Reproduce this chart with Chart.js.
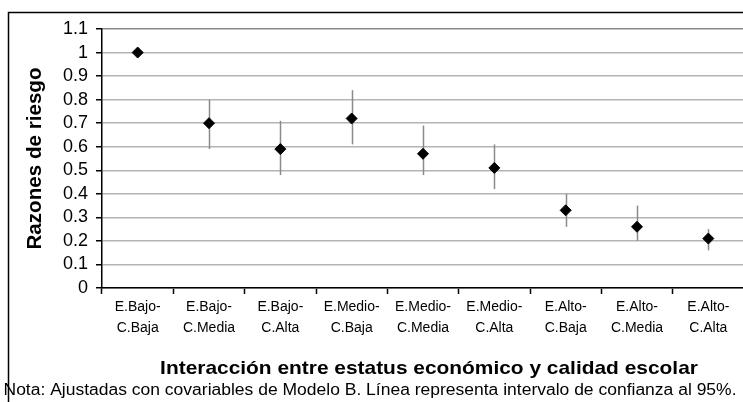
<!DOCTYPE html>
<html>
<head>
<meta charset="utf-8">
<script src="https://cdn.jsdelivr.net/npm/chart.js@4/dist/chart.umd.min.js"></script>
<style>
  html, body { margin: 0; padding: 0; background: #fff; overflow: hidden; }
  #wrap { position: absolute; left: 0; top: 0; width: 760px; height: 402px; }
</style>
</head>
<body>
<div id="wrap"><canvas id="c" width="760" height="402"></canvas></div>
<script>
// Categories: economic status x school quality
const categories = [
  ['E.Bajo-', 'C.Baja'], ['E.Bajo-', 'C.Media'], ['E.Bajo-', 'C.Alta'],
  ['E.Medio-', 'C.Baja'], ['E.Medio-', 'C.Media'], ['E.Medio-', 'C.Alta'],
  ['E.Alto-', 'C.Baja'], ['E.Alto-', 'C.Media'], ['E.Alto-', 'C.Alta']
];
// Risk ratios and 95% confidence limits
const ratios = [1.00, 0.70, 0.59, 0.72, 0.57, 0.51, 0.33, 0.26, 0.21];
const lower  = [1.00, 0.59, 0.48, 0.61, 0.48, 0.42, 0.26, 0.20, 0.16];
const upper  = [1.00, 0.80, 0.71, 0.84, 0.69, 0.61, 0.40, 0.35, 0.25];
const yTicks = [0, 0.1, 0.2, 0.3, 0.4, 0.5, 0.6, 0.7, 0.8, 0.9, 1.0, 1.1];

const xTitle = 'Interacción entre estatus económico y calidad escolar';
const yTitle = 'Razones de riesgo';
const note = 'Nota: Ajustadas con covariables de Modelo B. Línea representa intervalo de confianza al 95%.';

const FONT = '"Liberation Sans", Arial, sans-serif';

// Vertical confidence-interval lines behind the markers
const errorBars = {
  id: 'errorBars',
  beforeDatasetsDraw(chart) {
    const { ctx, scales: { x, y } } = chart;
    ctx.save();
    ctx.strokeStyle = '#8a8a8a';
    ctx.lineWidth = 1.5;
    for (let i = 0; i < ratios.length; i++) {
      if (upper[i] === lower[i]) continue;
      const px = Math.round(x.getPixelForValue(i)) + 0.5;
      ctx.beginPath();
      ctx.moveTo(px, y.getPixelForValue(upper[i]));
      ctx.lineTo(px, y.getPixelForValue(lower[i]));
      ctx.stroke();
    }
    ctx.restore();
  }
};

// Draws text stretched horizontally by sx around (x, y)
function wideText(ctx, text, x, y, sx) {
  ctx.save();
  ctx.translate(x, y);
  ctx.scale(sx, 1);
  ctx.fillText(text, 0, 0);
  ctx.restore();
}

// Frame, axis titles and footnote
const decorations = {
  id: 'decorations',
  afterDraw(chart) {
    const { ctx, chartArea } = chart;
    ctx.save();
    ctx.strokeStyle = '#000';
    ctx.lineWidth = 1.5;
    ctx.beginPath();
    ctx.moveTo(8.5, 402);
    ctx.lineTo(8.5, 12.5);
    ctx.lineTo(760, 12.5);
    ctx.stroke();

    ctx.fillStyle = '#000';
    ctx.textAlign = 'center';
    ctx.textBaseline = 'alphabetic';
    ctx.font = 'bold 19px ' + FONT;
    wideText(ctx, xTitle, 429, 374, 1.1);

    ctx.font = '16px ' + FONT;
    wideText(ctx, note, 370, 395, 1.093);

    ctx.translate(41, (chartArea.top + chartArea.bottom) / 2);
    ctx.rotate(-Math.PI / 2);
    ctx.font = 'bold 20px ' + FONT;
    wideText(ctx, yTitle, 0, 0, 1.03);
    ctx.restore();
  }
};

new Chart(document.getElementById('c'), {
  type: 'line',
  data: {
    labels: categories,
    datasets: [{
      data: ratios,
      showLine: false,
      pointStyle: 'rectRot',
      pointRadius: 5.5,
      pointHoverRadius: 5.5,
      backgroundColor: '#000',
      borderColor: '#000',
      borderWidth: 1
    }]
  },
  options: {
    responsive: false,
    animation: false,
    events: [],
    layout: { padding: { left: 0, right: 16, top: 29, bottom: 0 } },
    plugins: { legend: { display: false }, tooltip: { enabled: false } },
    scales: {
      x: {
        offset: true,
        grid: { offset: true, drawOnChartArea: false, drawTicks: true, tickLength: 6, tickColor: '#000', tickWidth: 1.5 },
        border: { color: '#000', width: 1.5 },
        ticks: { color: '#000', font: { family: FONT, size: 14, lineHeight: 1.5 }, padding: 3, maxRotation: 0, autoSkip: false },
        afterFit(scale) { scale.height = 114; }
      },
      y: {
        min: 0, max: 1.1,
        afterBuildTicks(scale) { scale.ticks = yTicks.map(v => ({ value: v })); },
        grid: { color: (c) => c.tick && c.tick.value === 1.1 ? '#888888' : '#b4b4b4', lineWidth: 1.5, tickLength: 6, tickColor: '#000', tickWidth: 1.5 },
        border: { color: '#000', width: 1.5 },
        ticks: {
          color: '#000', font: { family: FONT, size: 18 }, padding: 8, autoSkip: false,
          callback: (v) => String(Math.round(v * 10) / 10)
        },
        afterFit(scale) { scale.width = 102; }
      }
    }
  },
  plugins: [errorBars, decorations]
});
</script>
</body>
</html>
